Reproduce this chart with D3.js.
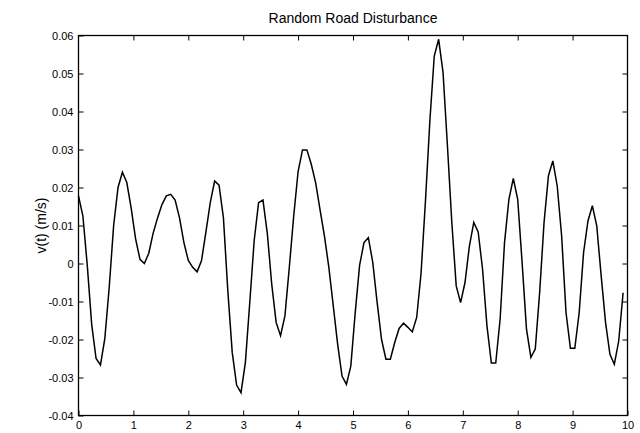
<!DOCTYPE html>
<html><head><meta charset="utf-8">
<script src="https://cdn.jsdelivr.net/npm/d3@7"></script>
<style>body{margin:0;background:#fff}svg{display:block}text{font-family:"Liberation Sans",Arial,sans-serif;fill:#000}</style>
</head><body><svg id="c" width="640" height="433"></svg>
<script>
const title = "Random Road Disturbance";
const yLabel = "v(t) (m/s)";
const xTicks = [0,1,2,3,4,5,6,7,8,9,10];
const yTicks = [-0.04,-0.03,-0.02,-0.01,0,0.01,0.02,0.03,0.04,0.05,0.06];
const time = [0,0.08,0.16,0.24,0.32,0.4,0.48,0.56,0.64,0.72,0.8,0.88,0.96,1.04,1.12,1.2,1.28,1.36,1.44,1.52,1.6,1.68,1.76,1.84,1.92,2,2.08,2.16,2.24,2.32,2.4,2.48,2.56,2.64,2.72,2.8,2.88,2.96,3.04,3.12,3.2,3.28,3.36,3.44,3.52,3.6,3.68,3.76,3.84,3.92,4,4.08,4.16,4.24,4.32,4.4,4.48,4.56,4.64,4.72,4.8,4.88,4.96,5.04,5.12,5.2,5.28,5.36,5.44,5.52,5.6,5.68,5.76,5.84,5.92,6,6.08,6.16,6.24,6.32,6.4,6.48,6.56,6.64,6.72,6.8,6.88,6.96,7.04,7.12,7.2,7.28,7.36,7.44,7.52,7.6,7.68,7.76,7.84,7.92,8,8.08,8.16,8.24,8.32,8.4,8.48,8.56,8.64,8.72,8.8,8.88,8.96,9.04,9.12,9.2,9.28,9.36,9.44,9.52,9.6,9.68,9.76,9.84,9.92];
const velocity = [0.0178,0.0125,-0.0005,-0.0160,-0.0250,-0.0267,-0.0197,-0.0062,0.0100,0.0200,
0.0240,0.0213,0.0145,0.0065,0.0011,0.0000,0.0027,0.0080,0.0120,0.0155,
0.0178,0.0182,0.0167,0.0120,0.0055,0.0008,-0.0010,-0.0022,0.0007,0.0082,
0.0160,0.0217,0.0206,0.0120,-0.0072,-0.0234,-0.0320,-0.0340,-0.0260,-0.0102,
0.0060,0.0160,0.0167,0.0078,-0.0055,-0.0155,-0.0190,-0.0138,-0.0010,0.0125,
0.0242,0.0299,0.0299,0.0261,0.0212,0.0141,0.0072,-0.0010,-0.0111,-0.0212,
-0.0296,-0.0318,-0.0270,-0.0130,-0.0005,0.0055,0.0068,0.0003,-0.0103,-0.0200,
-0.0252,-0.0252,-0.0208,-0.0171,-0.0157,-0.0168,-0.0180,-0.0142,-0.0025,0.0165,
0.0375,0.0546,0.0590,0.0503,0.0310,0.0108,-0.0059,-0.0103,-0.0050,0.0046,
0.0108,0.0083,-0.0015,-0.0164,-0.0262,-0.0262,-0.0146,0.0055,0.0169,0.0224,
0.0169,0.0003,-0.0173,-0.0247,-0.0225,-0.0076,0.0108,0.0231,0.0270,0.0204,
0.0073,-0.0129,-0.0223,-0.0223,-0.0129,0.0029,0.0112,0.0152,0.0099,-0.0032,
-0.0155,-0.0239,-0.0265,-0.0204,-0.0077];

const L = 78.5, R = 627.5, T = 35.5, B = 415.5;
const svg = d3.select("#c");
const x = d3.scaleLinear().domain([0,10]).range([L,R]);
const y = d3.scaleLinear().domain([-0.04,0.06]).range([B,T]);
const yfmt = d => String(Math.round(d*100)/100);
const tl = 5;

// left axis
svg.append("g").attr("transform",`translate(${L},0)`)
  .call(d3.axisLeft(y).tickValues(yTicks).tickFormat(yfmt).tickSizeInner(-tl).tickSizeOuter(0).tickPadding(5));
// right axis
svg.append("g").attr("transform",`translate(${R},0)`)
  .call(d3.axisRight(y).tickValues(yTicks.slice(1,-1)).tickFormat("").tickSizeInner(-tl).tickSizeOuter(0));
// bottom axis
svg.append("g").attr("transform",`translate(0,${B})`)
  .call(d3.axisBottom(x).tickValues(xTicks).tickFormat(d3.format("d")).tickSizeInner(-tl).tickSizeOuter(0).tickPadding(6));
// top axis
svg.append("g").attr("transform",`translate(0,${T})`)
  .call(d3.axisTop(x).tickValues(xTicks.slice(1,-1)).tickFormat("").tickSizeInner(-tl).tickSizeOuter(0));

svg.selectAll(".domain").remove();
svg.selectAll(".tick line").attr("stroke","#000").attr("stroke-width",1);
svg.selectAll(".tick text").attr("font-size",11).attr("fill","#000").style("font-family","Liberation Sans, Arial, sans-serif");

// box
svg.append("rect").attr("x",L).attr("y",T).attr("width",R-L).attr("height",B-T)
  .attr("fill","none").attr("stroke","#000").attr("stroke-width",1.3);

// line
const pts = time.map((t,i)=>[t,velocity[i]]);
svg.append("path").datum(pts)
  .attr("fill","none").attr("stroke","#000").attr("stroke-width",1.5).attr("stroke-linejoin","miter")
  .attr("d", d3.line().x(d=>x(d[0])).y(d=>y(d[1])));

svg.append("text").attr("x",(L+R)/2).attr("y",23).attr("text-anchor","middle").attr("font-size",14).text(title);
svg.append("text").attr("transform",`translate(46,${(T+B)/2}) rotate(-90)`).attr("text-anchor","middle").attr("font-size",14).text(yLabel);
</script></body></html>
